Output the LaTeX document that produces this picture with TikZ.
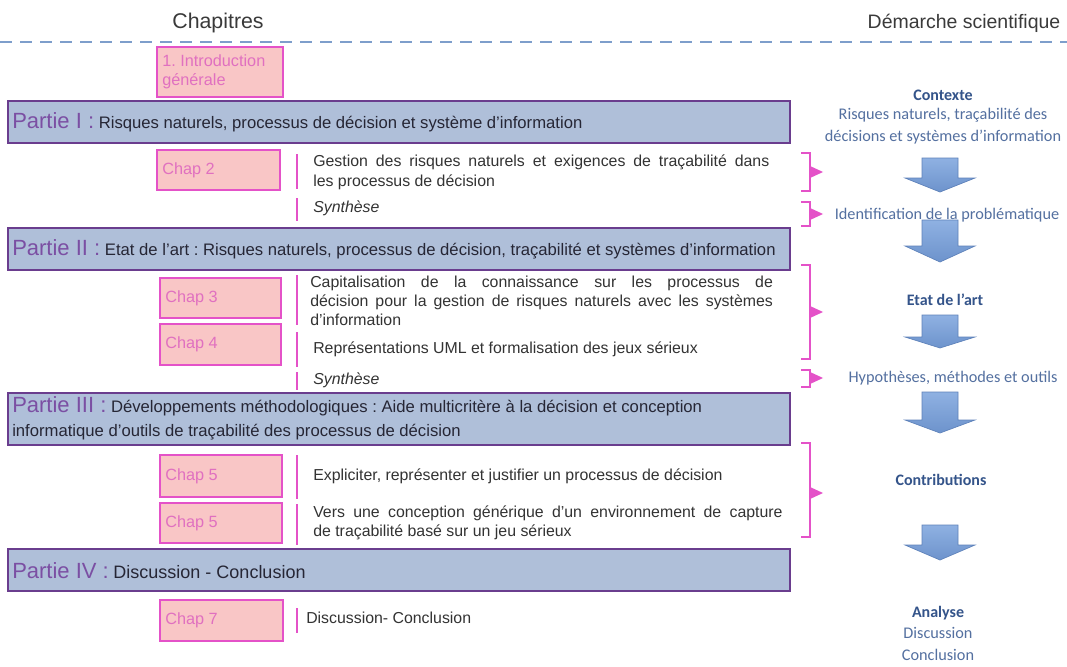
\documentclass[tikz,border=0pt]{standalone}
\usepackage{fontspec}
\setmainfont{Liberation Sans}
\newfontfamily\calib{Carlito}
\frenchspacing
\definecolor{partfill}{HTML}{AFBFD9}
\definecolor{partline}{HTML}{6A3D8E}
\definecolor{partlblcol}{HTML}{7B4FA3}
\definecolor{parttext}{HTML}{262635}
\definecolor{chapfill}{HTML}{F9C6C6}
\definecolor{chapline}{HTML}{E452C8}
\definecolor{chaptext}{HTML}{E070C0}
\definecolor{bodycol}{HTML}{333333}
\definecolor{dashcol}{HTML}{7E9ECB}
\definecolor{rcol}{HTML}{5470A0}
\definecolor{rboldcol}{HTML}{34548A}
\definecolor{arrtop}{HTML}{8FB1E2}
\definecolor{arrbot}{HTML}{6D93CC}
\definecolor{arrline}{HTML}{5E82BA}
\definecolor{titlecol}{HTML}{3A3A3A}
\newcommand\plbl[1]{{\fontsize{16.5}{18}\selectfont\color{partlblcol}#1}}
\newcommand\mybrk[3]{%
  \draw[brak] (801,#1) -- (810,#1) -- (810,#2) -- (801,#2);
  \fill[chapline] (810,#3-6) -- (823,#3) -- (810,#3+6) -- cycle;}
\newcommand\dnarrow[3]{%
  \draw[bigarrow] (922,#1) -- (958,#1) -- (958,#2) -- (975,#2) -- (940,#3) -- (905,#2) -- (922,#2) -- cycle;}
\begin{document}
\frenchspacing
\begin{tikzpicture}[x=0.75pt,y=-0.75pt,
  title/.style={text=titlecol,font=\fontsize{16}{18}\selectfont,inner sep=0},
  partbox/.style={draw=partline,fill=partfill,line width=1.9pt},
  parttxt/.style={text=parttext,font=\fontsize{12.5}{14}\selectfont,anchor=west,inner sep=0},
  chapbox/.style={draw=chapline,fill=chapfill,line width=1.5pt},
  chaptxt/.style={text=chaptext,font=\fontsize{12.2}{14.5}\selectfont,anchor=west,inner sep=0,align=left},
  bodytxt/.style={text=bodycol,font=\fontsize{11.9}{14.5}\selectfont,anchor=west,inner sep=0,align=left},
  bar/.style={draw=chapline,line width=1.8pt},
  brak/.style={draw=chapline,line width=1.6pt},
  rtxt/.style={text=rcol,font=\calib\fontsize{12.2}{16}\selectfont,inner sep=0,align=center},
  rbold/.style={text=rboldcol,font=\calib\bfseries\fontsize{12}{16}\selectfont,inner sep=0},
  bigarrow/.style={draw=arrline,line width=0.5pt,top color=arrtop,bottom color=arrbot},
  dashline/.style={draw=dashcol,line width=1.2pt,dash pattern=on 9pt off 6pt}]
\useasboundingbox[fill=white] (0,0) rectangle (1067,667);
% titles
\node[title] (chapitres) at (218,23) {Chapitres};
\node[title,font=\fontsize{14.6}{16}\selectfont] (demarche) at (964,23) {Démarche scientifique};
\coordinate (dl) at (0,42);
\coordinate (dr) at (1067,42);
\draw[dashline] (dl) -- (dr);
% introduction
\draw[chapbox] (157,47) rectangle (283,97);
\node[chaptxt] (intro) at (162,72) {1. Introduction\\générale};
% Partie I
\draw[partbox] (8,101) rectangle (790,143);
\node[parttxt] (p1) at (12,122) {\plbl{Partie I :} Risques naturels, processus de décision et système d’information};
\draw[chapbox] (157,150) rectangle (280,190);
\node[chaptxt] (c2) at (162,170) {Chap 2};
\draw[bar] (297,154) -- (297,189);
\node[bodytxt,font=\fontsize{11.9}{15}\selectfont] (t2) at (313,172) {\makebox[342pt][s]{Gestion des risques naturels et exigences de traçabilité dans}\\les processus de décision};
\draw[bar] (297,198) -- (297,221);
\node[bodytxt] (s1) at (313,208) {\itshape Synthèse};
% Partie II
\draw[partbox] (8,228) rectangle (790,270);
\node[parttxt] (p2) at (12,249) {\plbl{Partie II :} Etat de l’art : Risques naturels, processus de décision, traçabilité et systèmes d’information};
\draw[chapbox] (160,278) rectangle (281,318);
\node[chaptxt] (c3) at (165,298) {Chap 3};
\draw[chapbox] (160,324) rectangle (281,365);
\node[chaptxt] (c4) at (165,344) {Chap 4};
\draw[bar] (297,275) -- (297,325);
\node[bodytxt,font=\fontsize{11.9}{14.2}\selectfont] (t3) at (310,301) {\makebox[347pt][s]{Capitalisation de la connaissance sur les processus de}\\\makebox[347pt][s]{décision pour la gestion de risques naturels avec les systèmes}\\d’information};
\draw[bar] (297,332) -- (297,367);
\node[bodytxt] (t4) at (313,349) {Représentations UML et formalisation des jeux sérieux};
\draw[bar] (297,372) -- (297,390);
\node[bodytxt] (s2) at (313,380) {\itshape Synthèse};
% Partie III
\draw[partbox] (8,393) rectangle (790,445);
\node[parttxt] (p3) at (12,406) {\plbl{Partie III :} Développements méthodologiques : Aide multicritère à la décision et conception};
\node[parttxt] (p3b) at (12,432) {informatique d’outils de traçabilité des processus de décision};
\draw[chapbox] (160,455) rectangle (282,497);
\node[chaptxt] (c5) at (165,476) {Chap 5};
\draw[chapbox] (160,503) rectangle (282,543);
\node[chaptxt] (c6) at (165,523) {Chap 5};
\draw[bar] (297,455) -- (297,499);
\node[bodytxt] (t5) at (313,476) {Expliciter, représenter et justifier un processus de décision};
\draw[bar] (297,504) -- (297,545);
\node[bodytxt,font=\fontsize{11.9}{14.2}\selectfont] (t6) at (313,523) {\makebox[352pt][s]{Vers une conception générique d’un environnement de capture}\\de traçabilité basé sur un jeu sérieux};
% Partie IV
\draw[partbox] (8,549) rectangle (790,591);
\node[parttxt] (p4) at (12,571) {\plbl{Partie IV :} {\fontsize{13.5}{15}\selectfont Discussion - Conclusion}};
\draw[chapbox] (160,600) rectangle (283,641);
\node[chaptxt] (c7) at (165,620) {Chap 7};
\draw[bar] (297,608) -- (297,633);
\node[bodytxt] (t7) at (306,618) {Discussion- Conclusion};
% right column
\node[rbold] (ctx) at (943,95) {Contexte};
\node[rtxt] (ctxt) at (943,126) {Risques naturels, traçabilité des\\décisions et systèmes d’information};
\node[rtxt] (ident) at (947,215) {Identification de la problématique};
\node[rbold] (etat) at (945,300) {Etat de l’art};
\node[rtxt] (hyp) at (953,378) {Hypothèses, méthodes et outils};
\node[rbold] (contrib) at (941,480) {Contributions};
\node[rbold] (ana) at (938,613) {Analyse};
\node[rtxt] (disc) at (938,644) {Discussion\\Conclusion};
% brackets
\mybrk{153}{191}{172}
\mybrk{202}{226}{214}
\mybrk{265}{359}{312}
\mybrk{370}{387}{378}
\mybrk{443}{537}{493}
% arrows
\dnarrow{158}{178}{192}
\dnarrow{220}{246}{262}
\dnarrow{315}{337}{348}
\dnarrow{392}{420}{433}
\dnarrow{525}{545}{560}
\end{tikzpicture}
\end{document}
